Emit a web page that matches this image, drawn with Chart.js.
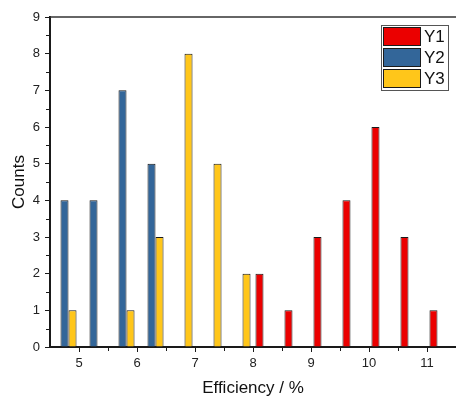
<!DOCTYPE html>
<html>
<head>
<meta charset="utf-8">
<script src="https://cdn.jsdelivr.net/npm/chart.js@4"></script>
<style>
  html, body { margin: 0; padding: 0; background: #fff; }
  #wrap { width: 456px; height: 400px; }
</style>
</head>
<body>
<div id="wrap"><canvas id="chart" width="456" height="400"></canvas></div>
<script>
// histogram bins, 0.5 wide, from 4.5 to 11.5 (bin centres)
const bins = [4.75, 5.25, 5.75, 6.25, 6.75, 7.25, 7.75, 8.25, 8.75, 9.25, 9.75, 10.25, 10.75, 11.25];
const y1 = [0, 0, 0, 0, 0, 0, 0, 2, 1, 3, 4, 6, 3, 1];
const y2 = [4, 4, 7, 5, 0, 0, 0, 0, 0, 0, 0, 0, 0, 0];
const y3 = [1, 0, 1, 3, 8, 5, 2, 0, 0, 0, 0, 0, 0, 0];
const xTicks = [5, 6, 7, 8, 9, 10, 11];
const yTicks = [0, 1, 2, 3, 4, 5, 6, 7, 8, 9];

const FONT = "'Liberation Sans', Arial, sans-serif";
const INK = '#1a1a1a';

// minor ticks, top frame line and the boxed legend
const framePlugin = {
    id: 'frame',
    afterDraw(chart) {
        const { ctx, chartArea: a } = chart;
        const xs = chart.scales.x2, ys = chart.scales.y;
        ctx.save();
        ctx.strokeStyle = INK;
        ctx.lineWidth = 1;
        ctx.beginPath();
        for (let v = 0.5; v < 9; v += 1) {
            const py = Math.round(ys.getPixelForValue(v)) + 0.5;
            ctx.moveTo(a.left - 4, py);
            ctx.lineTo(a.left, py);
        }
        for (let v = 5.5; v < 11.5; v += 1) {
            const px = Math.round(xs.getPixelForValue(v)) + 0.5;
            ctx.moveTo(px, a.bottom);
            ctx.lineTo(px, a.bottom + 4);
        }
        ctx.stroke();

        ctx.strokeStyle = '#333';
        ctx.lineWidth = 1.5;
        ctx.beginPath();
        ctx.moveTo(a.left, a.top);
        ctx.lineTo(a.right, a.top);
        ctx.stroke();

        // legend
        const lx = 381, ly = 25;
        ctx.lineWidth = 1;
        ctx.strokeStyle = '#555';
        ctx.fillStyle = '#fff';
        ctx.fillRect(lx, ly, 67, 65);
        ctx.strokeRect(lx + 0.5, ly + 0.5, 67, 65);
        ctx.font = '17px ' + FONT;
        ctx.textBaseline = 'middle';
        chart.data.datasets.forEach((ds, i) => {
            const sy = ly + 2 + i * 21;
            ctx.fillStyle = ds.backgroundColor;
            ctx.fillRect(lx + 2, sy, 38, 19);
            ctx.strokeStyle = INK;
            ctx.strokeRect(lx + 2.5, sy + 0.5, 37, 18);
            ctx.fillStyle = '#111';
            ctx.fillText(ds.label, lx + 43, sy + 10.5);
        });
        ctx.restore();
    }
};

const config = {
    type: 'bar',
    data: {
        labels: bins,
        datasets: [
            { label: 'Y1', data: y1, backgroundColor: '#EB0000' },
            { label: 'Y2', data: y2, backgroundColor: '#336699' },
            { label: 'Y3', data: y3, backgroundColor: '#FFC61A' }
        ]
    },
    options: {
        responsive: false,
        animation: false,
        layout: { padding: { top: 17, right: 0, left: 0, bottom: 0 } },
        datasets: {
            bar: {
                barPercentage: 1,
                categoryPercentage: 0.83,
                borderWidth: 1,
                borderColor: INK
            }
        },
        plugins: {
            legend: { display: false },
            tooltip: { enabled: false }
        },
        scales: {
            x: { display: false, offset: true },
            x2: {
                type: 'linear',
                position: 'bottom',
                min: 4.5,
                max: 11.5,
                offset: false,
                afterBuildTicks: s => { s.ticks = xTicks.map(v => ({ value: v })); },
                afterFit: s => { s.height = 53; },
                grid: { drawOnChartArea: false, offset: false, tickLength: 5, tickColor: INK },
                border: { color: INK, width: 2 },
                ticks: { color: '#222', padding: 4, font: { family: FONT, size: 13 } },
                title: {
                    display: true,
                    text: 'Efficiency / %',
                    color: '#111',
                    padding: { top: 0, bottom: 1 },
                    font: { family: FONT, size: 17 }
                }
            },
            y: {
                min: 0,
                max: 9,
                afterBuildTicks: s => { s.ticks = yTicks.map(v => ({ value: v })); },
                afterFit: s => { s.width = 50; },
                grid: { drawOnChartArea: false, tickLength: 5, tickColor: INK },
                border: { color: INK, width: 2 },
                ticks: { color: '#222', padding: 5, font: { family: FONT, size: 13 } },
                title: {
                    display: true,
                    text: 'Counts',
                    color: '#111',
                    padding: { top: 9, bottom: 0 },
                    font: { family: FONT, size: 17 }
                }
            }
        }
    },
    plugins: [framePlugin]
};

new Chart(document.getElementById('chart'), config);
</script>
</body>
</html>
